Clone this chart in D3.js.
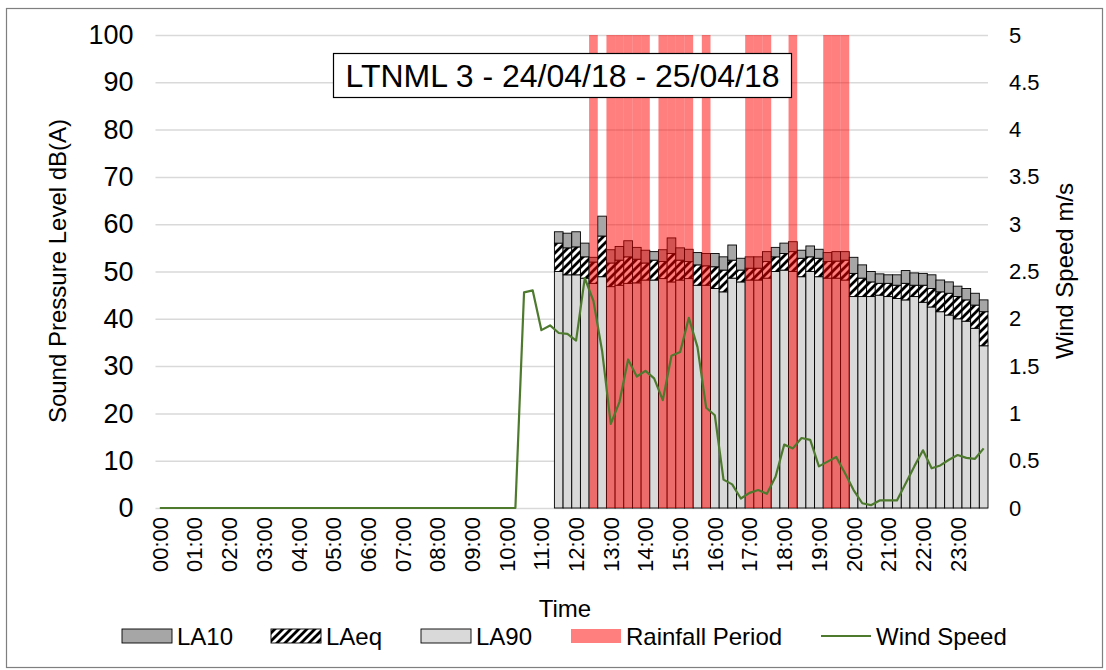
<!DOCTYPE html>
<html><head><meta charset="utf-8">
<script src="https://cdn.jsdelivr.net/npm/d3@7"></script>
<style>
body{margin:0;background:#fff;}
text{font-family:"Liberation Sans",Arial,sans-serif;fill:#000;}
</style>
</head><body>
<svg id="c" width="1106" height="670"></svg>
<script>
// ---- categories (15-minute periods) ----
const times = d3.range(96).map(i => String(Math.floor(i/4)).padStart(2,"0") + ":" + String((i%4)*15).padStart(2,"0"));
const hourLabels = ["00:00","01:00","02:00","03:00","04:00","05:00","06:00","07:00","08:00","09:00","10:00","11:00",
  "12:00","13:00","14:00","15:00","16:00","17:00","18:00","19:00","20:00","21:00","22:00","23:00"];
const leftTicks = [0,10,20,30,40,50,60,70,80,90,100];
const rightTicks = [0,0.5,1,1.5,2,2.5,3,3.5,4,4.5,5];

// ---- wind speed m/s, one value per period 00:00 .. 23:45 ----
const windSpeed = [
  0,0,0,0, 0,0,0,0, 0,0,0,0, 0,0,0,0, 0,0,0,0, 0,0,0,0,
  0,0,0,0, 0,0,0,0, 0,0,0,0, 0,0,0,0, 0,0,
  2.28,2.30,1.88,1.93, 1.85,1.84,1.77,2.43,
  2.19,1.66,0.89,1.12, 1.57,1.39,1.45,1.37,
  1.14,1.61,1.65,2.01, 1.70,1.06,0.98,0.30,
  0.25,0.10,0.16,0.19, 0.15,0.33,0.67,0.63,
  0.74,0.72,0.44,0.49, 0.54,0.37,0.19,0.05,
  0.03,0.08,0.08,0.08, 0.26,0.44,0.61,0.42,
  0.45,0.51,0.56,0.53, 0.52,0.63
];

// ---- noise levels dB(A), periods 11:30 .. 23:45 ----
const barTimes = times.slice(times.indexOf("11:30"));
const la10 = [58.4,58.1,58.4,56.0,53.0,61.7,54.6,55.3,56.5,55.1,54.5,54.2,54.6,57.1,55.0,54.7,54.0,53.8,53.8,53.1,
  55.6,52.8,53.1,53.1,54.2,55.1,56.0,56.3,54.5,55.4,54.7,54.0,54.2,54.2,53.0,51.4,50.0,49.5,49.3,49.3,
  50.2,49.7,49.6,49.3,48.2,47.8,46.9,46.4,45.4,44.0];
const laeq = [56.0,55.0,55.2,53.1,52.0,57.5,51.8,52.4,53.1,52.6,51.8,52.4,52.1,53.8,52.4,52.1,51.4,51.2,51.0,50.3,
  52.4,50.3,50.7,50.7,52.1,53.1,53.8,54.2,52.8,53.1,52.8,52.1,52.2,52.4,49.6,48.6,47.8,47.5,47.5,47.1,
  47.5,47.1,47.1,46.4,45.7,45.4,44.7,44.0,42.9,41.5];
const la90 = [50.0,49.3,49.3,48.6,47.5,48.9,46.8,47.1,47.5,47.6,48.2,48.2,48.5,47.8,48.2,48.5,47.1,47.1,46.4,45.7,
  48.6,47.8,48.2,48.2,48.6,50.0,50.3,50.0,48.9,50.0,48.9,48.6,48.6,48.2,44.7,44.7,44.7,45.0,44.7,44.3,
  44.0,44.7,43.5,42.5,41.5,40.8,40.0,39.5,38.0,34.3];

// ---- rainfall periods ----
const rainTimes = ["12:30","13:00","13:15","13:30","13:45","14:00","14:30","14:45","15:00","15:15","15:45",
  "17:00","17:15","17:30","18:15","19:15","19:30","19:45"];
const rainLevel = 100;

const svg = d3.select("#c");
const X0 = 155.5, X1 = 988, YT = 35, YB = 508;
const x = d3.scaleBand().domain(times).range([X0, X1]).padding(0);
const yL = d3.scaleLinear().domain([0,100]).range([YB, YT]);
const yR = d3.scaleLinear().domain([0,5]).range([YB, YT]);
const bw = x.bandwidth();

// defs: hatch pattern
const defs = svg.append("defs");
const pat = defs.append("pattern").attr("id","hatch").attr("patternUnits","userSpaceOnUse")
  .attr("width",8).attr("height",8);
pat.append("rect").attr("width",8).attr("height",8).attr("fill","#fff");
pat.append("path").attr("d","M-2,2 L2,-2 M0,8 L8,0 M6,10 L10,6").attr("stroke","#000").attr("stroke-width",2.8);

// outer border
svg.append("rect").attr("x",6.5).attr("y",8.5).attr("width",1096).attr("height",659)
  .attr("fill","none").attr("stroke","#7f7f7f").attr("stroke-width",1.2);

// gridlines
svg.append("g").attr("transform",`translate(${X0},0)`)
  .call(d3.axisLeft(yL).tickValues(leftTicks).tickSize(-(X1-X0)).tickFormat(""))
  .call(g => g.select(".domain").remove())
  .call(g => g.selectAll("line").attr("stroke","#d9d9d9").attr("stroke-width",1.5));

// left axis labels
svg.append("g").attr("transform",`translate(${X0},0)`)
  .call(d3.axisLeft(yL).tickValues(leftTicks).tickSize(0).tickPadding(22))
  .call(g => g.select(".domain").remove())
  .call(g => g.selectAll("text").style("font-size","27px").attr("fill","#000"));

// right axis labels
svg.append("g").attr("transform",`translate(${X1},0)`)
  .call(d3.axisRight(yR).tickValues(rightTicks).tickSize(0).tickPadding(21).tickFormat(d => String(d)))
  .call(g => g.select(".domain").remove())
  .call(g => g.selectAll("text").style("font-size","22px").attr("fill","#000"));

// x axis labels
svg.append("g").attr("transform",`translate(0,${YB})`)
  .call(d3.axisBottom(x).tickValues(hourLabels).tickSize(0).tickFormat(d => d))
  .call(g => g.select(".domain").remove())
  .call(g => g.selectAll("text").style("font-size","22px").attr("fill","#000")
     .attr("transform","rotate(-90)").attr("text-anchor","end")
     .attr("x",-9).attr("y",0).attr("dy","0.36em"));

// stacked bars
const bars = svg.append("g");
barTimes.forEach((t,i) => {
  const segs = [[0, la90[i], "#d9d9d9"], [la90[i], laeq[i], "url(#hatch)"], [laeq[i], la10[i], "#a6a6a6"]];
  segs.forEach(s => {
    bars.append("rect").attr("x", x(t)).attr("width", bw)
      .attr("y", yL(s[1])).attr("height", yL(s[0]) - yL(s[1]))
      .attr("fill", s[2]).attr("stroke","#000").attr("stroke-width",0.9);
  });
});

// rainfall bars
svg.append("g").selectAll("rect").data(rainTimes).join("rect")
  .attr("x", d => x(d)).attr("width", bw)
  .attr("y", yL(rainLevel)).attr("height", yL(0) - yL(rainLevel))
  .attr("fill","#ff0000").attr("fill-opacity",0.5);

// wind speed line
svg.append("path").datum(windSpeed)
  .attr("d", d3.line().x((d,i) => x(times[i]) + bw/2).y(d => yR(d)))
  .attr("fill","none").attr("stroke","#4e7a2e").attr("stroke-width",2.2).attr("stroke-linejoin","round");

// title box
const tb = svg.append("g");
tb.append("rect").attr("x",333.5).attr("y",53.5).attr("width",458).attr("height",44)
  .attr("fill","#fff").attr("stroke","#000").attr("stroke-width",1.2);
tb.append("text").attr("x",562.5).attr("y",76).attr("text-anchor","middle").attr("dominant-baseline","central")
  .style("font-size","32px").text("LTNML 3 - 24/04/18 - 25/04/18");

// axis titles
svg.append("text").attr("transform","translate(57,271) rotate(-90)").attr("text-anchor","middle")
  .attr("dominant-baseline","central").style("font-size","24px").text("Sound Pressure Level dB(A)");
svg.append("text").attr("transform","translate(1064,271) rotate(-90)").attr("text-anchor","middle")
  .attr("dominant-baseline","central").style("font-size","24px").text("Wind Speed m/s");
svg.append("text").attr("x",565).attr("y",608).attr("text-anchor","middle")
  .attr("dominant-baseline","central").style("font-size","24px").text("Time");

// legend
const legend = [
  {name:"LA10", type:"rect", fill:"#a6a6a6", x:122},
  {name:"LAeq", type:"rect", fill:"url(#hatch)", x:271},
  {name:"LA90", type:"rect", fill:"#d9d9d9", x:421},
  {name:"Rainfall Period", type:"rain", fill:"#ff0000", x:571},
  {name:"Wind Speed", type:"line", fill:"#4e7a2e", x:821}
];
const LY = 636;
const lg = svg.append("g");
legend.forEach(l => {
  if (l.type === "rect") {
    lg.append("rect").attr("x",l.x).attr("y",LY-7).attr("width",50).attr("height",14)
      .attr("fill",l.fill).attr("stroke","#000").attr("stroke-width",0.9);
  } else if (l.type === "rain") {
    lg.append("rect").attr("x",l.x).attr("y",LY-7).attr("width",50).attr("height",14)
      .attr("fill",l.fill).attr("fill-opacity",0.5);
  } else {
    lg.append("line").attr("x1",l.x).attr("x2",l.x+50).attr("y1",LY).attr("y2",LY)
      .attr("stroke",l.fill).attr("stroke-width",2.2);
  }
  lg.append("text").attr("x",l.x+55).attr("y",LY).attr("dominant-baseline","central")
    .style("font-size","24px").text(l.name);
});
</script>
</body></html>
